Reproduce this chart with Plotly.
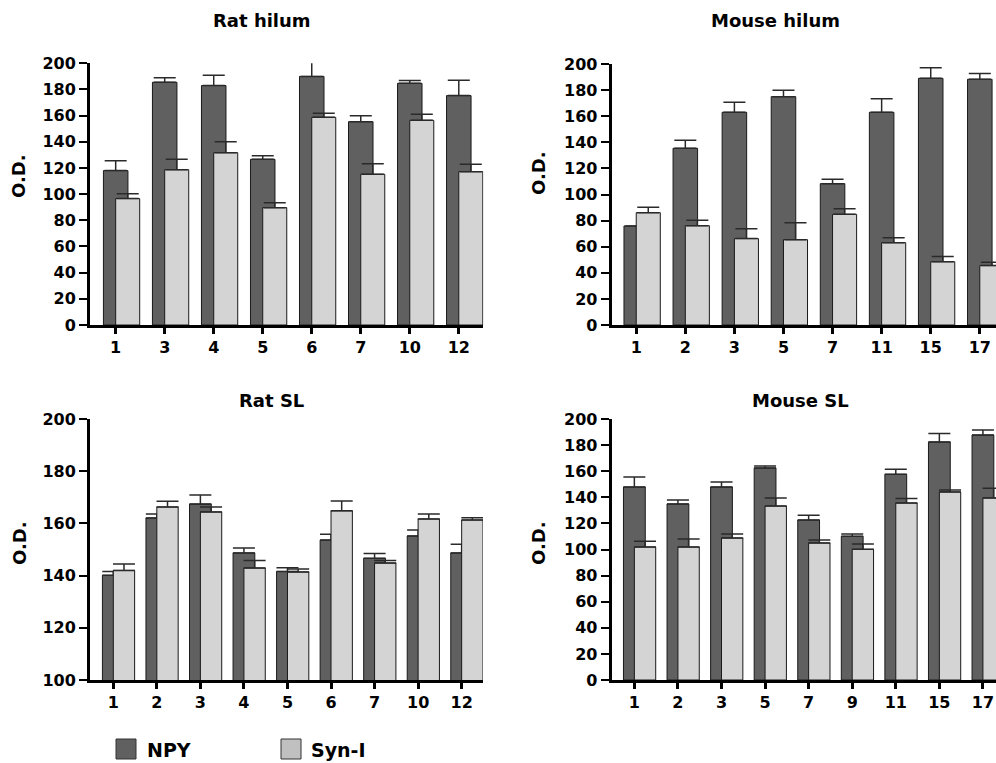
import plotly.graph_objects as go

W, H = 996, 763

# ---------------- data ----------------
rat_hilum_cats = ["1", "3", "4", "5", "6", "7", "10", "12"]
rat_hilum_npy = [118, 185.5, 183, 126.6, 190, 155.4, 184.7, 175.3]
rat_hilum_npy_err = [7.6, 3.5, 7.8, 2.8, 11.5, 4.6, 2.1, 11.7]
rat_hilum_syn = [96.6, 118.7, 131.7, 89.7, 158.7, 115.2, 156.4, 117.2]
rat_hilum_syn_err = [3.8, 7.9, 8.3, 3.8, 3.1, 8.1, 4.6, 5.6]

mouse_hilum_cats = ["1", "2", "3", "5", "7", "11", "15", "17"]
mouse_hilum_npy = [75.9, 135.4, 163, 175, 108.3, 163, 189, 188.3]
mouse_hilum_npy_err = [0, 6.1, 7.6, 4.8, 3.3, 10.4, 8.2, 4.5]
mouse_hilum_syn = [86.1, 76.1, 66.2, 65.4, 84.8, 63.1, 48.5, 45.5]
mouse_hilum_syn_err = [4.1, 4.1, 7.6, 13, 4.3, 3.8, 3.9, 2.5]

rat_sl_cats = ["1", "2", "3", "4", "5", "6", "7", "10", "12"]
rat_sl_npy = [140.1, 162.1, 167.4, 148.7, 141.6, 153.6, 146.6, 155.2, 148.7]
rat_sl_npy_err = [1.5, 1.5, 3.5, 1.9, 1.4, 2.2, 1.9, 2.3, 3.3]
rat_sl_syn = [142, 166.3, 164.4, 142.9, 141.4, 164.8, 144.8, 161.7, 161.3]
rat_sl_syn_err = [2.4, 2.2, 1.9, 2.9, 1.1, 3.8, 1.0, 1.9, 0.9]

mouse_sl_cats = ["1", "2", "3", "5", "7", "9", "11", "15", "17"]
mouse_sl_npy = [147.9, 134.9, 147.9, 162.5, 122.6, 110.1, 157.6, 182.4, 187.7]
mouse_sl_npy_err = [7.7, 3.0, 3.8, 1.5, 3.6, 1.8, 3.8, 6.4, 3.9]
mouse_sl_syn = [101.9, 101.9, 108.8, 133.3, 105, 100.1, 135.6, 144.1, 139.5]
mouse_sl_syn_err = [4.4, 6.1, 3.1, 6.2, 2.3, 4.1, 3.4, 1.5, 7.4]

panel_titles = ["Rat hilum", "Mouse hilum", "Rat SL", "Mouse SL"]
series_names = ["NPY", "Syn-I"]
y_title = "O.D."

# ---------------- style ----------------
NPY_COLOR = "#606060"
SYN_COLOR = "#d4d4d4"
SYN_LEGEND = "#c0c0c0"
FONT = "DejaVu Sans, Arial, sans-serif"

fig = go.Figure()

panels = [
    (rat_hilum_cats, rat_hilum_npy, rat_hilum_npy_err, rat_hilum_syn, rat_hilum_syn_err, "x", "y", False),
    (mouse_hilum_cats, mouse_hilum_npy, mouse_hilum_npy_err, mouse_hilum_syn, mouse_hilum_syn_err, "x2", "y2", False),
    (rat_sl_cats, rat_sl_npy, rat_sl_npy_err, rat_sl_syn, rat_sl_syn_err, "x3", "y3", True),
    (mouse_sl_cats, mouse_sl_npy, mouse_sl_npy_err, mouse_sl_syn, mouse_sl_syn_err, "x4", "y4", False),
]

for cats, npy, npy_err, syn, syn_err, xa, ya, clip in panels:
    fig.add_trace(go.Bar(
        x=cats, y=npy, name=series_names[0], xaxis=xa, yaxis=ya,
        offset=-0.25, width=0.5, cliponaxis=clip,
        marker=dict(color=NPY_COLOR, line=dict(color="#1a1a1a", width=1)),
        error_y=dict(type="data", symmetric=False, array=npy_err,
                     arrayminus=[0] * len(npy), width=11, thickness=1.5, color="#2a2a2a"),
        showlegend=False,
    ))
    fig.add_trace(go.Bar(
        x=cats, y=syn, name=series_names[1], xaxis=xa, yaxis=ya,
        offset=0.0, width=0.49, cliponaxis=clip,
        marker=dict(color=SYN_COLOR, line=dict(color="#1a1a1a", width=1)),
        error_y=dict(type="data", symmetric=False, array=syn_err,
                     arrayminus=[0] * len(syn), width=11, thickness=1.5, color="#2a2a2a"),
        showlegend=False,
    ))


def px_x(v):
    return v / W


def px_y(v):
    return 1 - v / H


xcommon = dict(type="category", showline=True, linewidth=3, linecolor="black",
               ticks="outside", ticklen=6, tickwidth=3, tickcolor="black",
               showgrid=False, zeroline=False, automargin=False,
               tickfont=dict(family=FONT, size=16, color="black", weight="bold"))
ycommon = dict(showline=True, linewidth=3, linecolor="black",
               ticks="outside", ticklen=8, tickwidth=2, tickcolor="black",
               showgrid=False, zeroline=False, dtick=20, automargin=False,
               tickfont=dict(family=FONT, size=16, color="black", weight="bold"))

fig.update_layout(
    width=W, height=H,
    margin=dict(l=0, r=0, t=0, b=0, autoexpand=False),
    paper_bgcolor="white", plot_bgcolor="white",
    barmode="overlay",
    showlegend=False,
    xaxis=dict(xcommon, domain=[px_x(90), px_x(483.3)], range=[-0.524, 7.5], anchor="y"),
    yaxis=dict(ycommon, domain=[px_y(325), px_y(63.3)], range=[0, 200], anchor="x"),
    xaxis2=dict(xcommon, domain=[px_x(611.7), 1.0], range=[-0.5, 7.33], anchor="y2"),
    yaxis2=dict(ycommon, domain=[px_y(325), px_y(64)], range=[0, 200], anchor="x2"),
    xaxis3=dict(xcommon, domain=[px_x(90), px_x(483)], range=[-0.535, 8.49], anchor="y3"),
    yaxis3=dict(ycommon, domain=[px_y(680), px_y(419)], range=[100, 200], anchor="x3"),
    xaxis4=dict(xcommon, domain=[px_x(611.7), 1.0], range=[-0.52, 8.3], anchor="y4"),
    yaxis4=dict(ycommon, domain=[px_y(680), px_y(419)], range=[0, 200], anchor="x4"),
)

annotations = []
title_pos = [(261.5, 20), (775, 20), (271, 400), (800, 400)]
for t, (tx, ty) in zip(panel_titles, title_pos):
    annotations.append(dict(text=t, x=px_x(tx), y=px_y(ty), xref="paper", yref="paper",
                            xanchor="center", yanchor="middle", showarrow=False,
                            font=dict(family=FONT, size=18, color="black", weight="bold")))
ytitle_pos = [(19, 176), (538, 173), (19, 543), (538, 543)]
for tx, ty in ytitle_pos:
    annotations.append(dict(text=y_title, x=px_x(tx), y=px_y(ty), xref="paper", yref="paper",
                            xanchor="center", yanchor="middle", showarrow=False, textangle=-90,
                            font=dict(family=FONT, size=18, color="black", weight="bold")))

# legend (boxes + labels)
shapes = []
legend_items = [(116, 136, NPY_COLOR, 145, series_names[0]),
                (281, 301, SYN_LEGEND, 309, series_names[1])]
for x0, x1, col, tx, label in legend_items:
    shapes.append(dict(type="rect", xref="paper", yref="paper",
                       x0=px_x(x0), x1=px_x(x1), y0=px_y(759), y1=px_y(739),
                       fillcolor=col, line=dict(color="#333333", width=1)))
    annotations.append(dict(text=label, x=px_x(tx), y=px_y(750), xref="paper", yref="paper",
                            xanchor="left", yanchor="middle", showarrow=False,
                            font=dict(family=FONT, size=19, color="black", weight="bold")))

fig.update_layout(annotations=annotations, shapes=shapes)

fig.write_html("out.html", config={"displayModeBar": False},
               post_script="document.body.style.margin='0px';document.body.style.overflow='hidden';")
